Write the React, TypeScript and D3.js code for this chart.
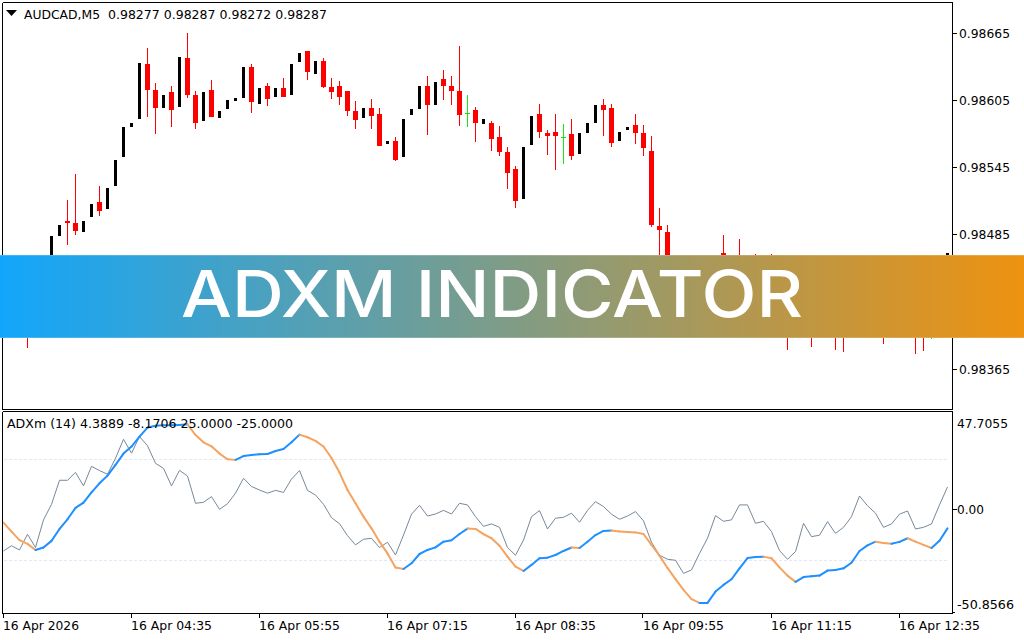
import * as d3 from "d3";
import { useEffect, useRef } from "react";

// prices in points (1 point = 0.00001)
const opens = [
  98409, 98422, 98416, 98419, 98418, 98440, 98460, 98484, 98497, 98495,
  98487, 98501, 98514, 98508, 98528, 98554, 98581, 98588, 98637, 98614,
  98598, 98612, 98599, 98643, 98610, 98586, 98614, 98589, 98597, 98604,
  98607, 98635, 98602, 98618, 98608, 98616, 98610, 98639, 98649, 98628,
  98640, 98617, 98618, 98613, 98595, 98589, 98598, 98593, 98566, 98569,
  98554, 98592, 98597, 98618, 98601, 98624, 98618, 98613, 98594, 98596,
  98584, 98585, 98572, 98559, 98544, 98517, 98565, 98593, 98576, 98577,
  98572, 98575, 98557, 98576, 98585, 98601, 98598, 98569, 98578, 98583,
  98576, 98560, 98493, 98487, 98453, 98435, 98449, 98431, 98444, 98458,
  98469, 98452, 98460, 98460, 98460, 98435, 98455, 98427, 98431, 98404,
  98422, 98418, 98400, 98410, 98416, 98404, 98393, 98413, 98410, 98422,
  98427, 98407, 98422, 98435, 98422, 98413, 98409, 98409, 98449,
];
const highs = [
  98427, 98428, 98431, 98427, 98440, 98460, 98484, 98494, 98516, 98539,
  98497, 98512, 98528, 98527, 98552, 98581, 98585, 98638, 98652, 98620,
  98610, 98618, 98644, 98665, 98613, 98612, 98623, 98595, 98605, 98607,
  98635, 98637, 98616, 98620, 98616, 98625, 98637, 98647, 98649, 98640,
  98643, 98625, 98622, 98613, 98604, 98598, 98606, 98598, 98569, 98572,
  98588, 98597, 98618, 98627, 98621, 98632, 98627, 98653, 98610, 98599,
  98588, 98586, 98582, 98563, 98546, 98563, 98591, 98602, 98578, 98593,
  98584, 98588, 98576, 98585, 98601, 98606, 98602, 98577, 98581, 98593,
  98583, 98573, 98509, 98494, 98460, 98449, 98460, 98444, 98458, 98467,
  98485, 98460, 98481, 98467, 98468, 98449, 98468, 98435, 98449, 98418,
  98435, 98431, 98413, 98427, 98435, 98418, 98404, 98427, 98422, 98431,
  98440, 98422, 98435, 98449, 98431, 98427, 98427, 98435, 98469,
];
const lows = [
  98409, 98407, 98416, 98384, 98418, 98440, 98460, 98484, 98476, 98485,
  98487, 98501, 98502, 98508, 98528, 98554, 98581, 98588, 98590, 98575,
  98598, 98581, 98599, 98607, 98579, 98586, 98590, 98589, 98597, 98604,
  98607, 98594, 98602, 98600, 98608, 98608, 98610, 98639, 98623, 98628,
  98616, 98606, 98601, 98591, 98579, 98589, 98579, 98564, 98566, 98551,
  98554, 98592, 98597, 98574, 98601, 98605, 98601, 98582, 98581, 98568,
  98584, 98560, 98555, 98526, 98509, 98517, 98565, 98571, 98556, 98543,
  98548, 98552, 98557, 98576, 98585, 98573, 98563, 98569, 98578, 98566,
  98555, 98492, 98449, 98449, 98427, 98435, 98422, 98431, 98444, 98458,
  98440, 98452, 98431, 98460, 98435, 98435, 98422, 98427, 98382, 98404,
  98400, 98385, 98400, 98410, 98382, 98380, 98393, 98395, 98410, 98422,
  98387, 98407, 98422, 98404, 98378, 98381, 98392, 98409, 98449,
];
const closes = [
  98427, 98410, 98431, 98400, 98440, 98460, 98484, 98494, 98495, 98488,
  98497, 98512, 98506, 98527, 98552, 98581, 98585, 98638, 98614, 98598,
  98610, 98596, 98644, 98610, 98585, 98612, 98590, 98595, 98605, 98607,
  98635, 98603, 98616, 98606, 98616, 98608, 98637, 98647, 98630, 98640,
  98617, 98612, 98608, 98595, 98587, 98598, 98591, 98564, 98569, 98552,
  98588, 98597, 98618, 98601, 98621, 98618, 98613, 98592, 98594, 98585,
  98588, 98570, 98559, 98540, 98515, 98563, 98591, 98577, 98573, 98573,
  98572, 98555, 98576, 98585, 98601, 98596, 98567, 98577, 98581, 98576,
  98562, 98494, 98489, 98453, 98435, 98449, 98431, 98444, 98458, 98467,
  98455, 98460, 98444, 98467, 98449, 98449, 98431, 98435, 98409, 98418,
  98409, 98400, 98413, 98427, 98400, 98393, 98404, 98404, 98422, 98431,
  98404, 98422, 98435, 98418, 98400, 98395, 98409, 98435, 98469,
];

const adxSignal = [
  -6.4, -10.8, -15.0, -16.9, -19.9, -18.7, -15.4, -9.5, -4.7, 0.9,
  3.5, 8.6, 13.1, 16.9, 22.2, 27.8, 31.3, 36.2, 40.7, 41.6,
  41.8, 41.8, 42.0, 42.3, 37.0, 33.4, 31.4, 27.8, 25.0, 24.7,
  26.6, 27.1, 27.5, 27.6, 29.1, 30.1, 33.4, 37.2, 35.9, 34.1,
  31.3, 25.6, 18.4, 9.8, 3.2, -3.4, -9.2, -15.8, -21.6, -28.6,
  -29.3, -26.5, -21.9, -19.9, -18.6, -15.8, -15.1, -12.0, -9.3, -9.5,
  -12.1, -14.1, -17.8, -23.2, -28.2, -30.3, -27.3, -24.0, -23.7, -22.4,
  -20.4, -18.7, -18.9, -15.8, -12.5, -10.5, -10.3, -10.8, -11.0, -11.2,
  -12.0, -17.4, -22.7, -28.8, -34.3, -39.7, -44.2, -46.1, -46.1, -40.5,
  -37.2, -34.4, -29.0, -23.9, -23.4, -23.2, -24.0, -28.5, -32.6, -35.7,
  -33.3, -32.9, -32.6, -30.1, -29.8, -29.0, -26.2, -20.4, -17.6, -15.8,
  -16.4, -16.8, -15.9, -14.1, -15.8, -17.4, -18.9, -15.3, -9.2,
];
const adxRaw = [
  -20.4, -17.8, -19.9, -12.1, -18.7, -5.0, 2.7, 14.6, 14.6, 18.5,
  11.8, 21.5, 19.4, 17.6, 25.5, 34.9, 28.0, 36.2, 31.7, 23.0,
  20.5, 11.8, 19.5, 16.7, 3.2, 3.7, 6.5, 0.2, 3.0, 8.2,
  15.6, 11.5, 9.8, 8.2, 9.6, 8.6, 15.2, 19.4, 9.6, 7.3,
  2.7, -3.9, -6.9, -12.8, -17.4, -14.6, -14.1, -18.7, -16.1, -22.4,
  -12.5, -2.2, 2.2, -3.1, -2.1, -0.3, -2.1, 3.2, 2.4, -3.4,
  -8.2, -7.0, -8.7, -18.7, -22.5, -15.0, -3.4, -0.4, -9.5, -4.2,
  -3.7, -1.7, -6.2, -0.3, 4.0, 1.6, -2.2, -4.7, -3.1, -0.9,
  -5.5, -16.1, -22.5, -24.5, -25.0, -31.5, -29.8, -21.6, -14.1, -2.9,
  -5.7, -5.0, 2.4, 2.4, -6.7, -5.7, -10.8, -20.2, -24.5, -20.7,
  -6.7, -13.3, -12.6, -5.9, -11.7, -8.7, -3.4, 6.8, 2.0, -1.7,
  -8.7, -7.0, -2.2, -0.6, -9.5, -8.7, -7.0, 2.4, 11.3,
];

const priceTicks = [98665, 98605, 98545, 98485, 98425, 98365];
const adxLevels = [25, -25];
const adxTicks = [47.7055, 0, -50.8566];
const adxTickLabels = ["47.7055", "0.00", "-50.8566"];
const timeLabels = [
  "16 Apr 2026",
  "16 Apr 04:35",
  "16 Apr 05:55",
  "16 Apr 07:15",
  "16 Apr 08:35",
  "16 Apr 09:55",
  "16 Apr 11:15",
  "16 Apr 12:35",
];
const BARS_PER_LABEL = 16;

const UI_FONT = "'DejaVu Sans', sans-serif";

export default function App() {
  const svgRef = useRef<SVGSVGElement>(null);

  useEffect(() => {
    if (!svgRef.current) return;
    const svg = d3.select(svgRef.current);
    svg.selectAll("*").remove();

    const x = d3.scaleLinear().domain([0, opens.length - 1]).range([3.5, 947.5]);
    const yPrice = d3.scaleLinear().domain([98365, 98665]).range([369, 33]);
    const yAdx = d3.scaleLinear().domain([-50.8566, 47.7055]).range([612.5, 413.4]);

    const crisp = (v: number) => Math.round(v - 0.5) + 0.5;

    // price pane
    const candles = svg.append("g");
    opens.forEach((open, i) => {
      const close = closes[i];
      const cx = x(i);
      const up = close > open;
      const color = up ? "#000000" : close < open ? "#ff0000" : "#17e317";
      if (!up) {
        candles
          .append("line")
          .attr("x1", cx)
          .attr("x2", cx)
          .attr("y1", Math.round(yPrice(highs[i])))
          .attr("y2", Math.round(yPrice(lows[i])))
          .attr("stroke", color)
          .attr("stroke-width", 1)
          .attr("shape-rendering", "crispEdges");
      }
      const top = Math.round(yPrice(Math.max(open, close)));
      const bottom = Math.round(yPrice(Math.min(open, close)));
      const w = up ? 3 : 5;
      candles
        .append("rect")
        .attr("x", cx - w / 2)
        .attr("y", top)
        .attr("width", w)
        .attr("height", Math.max(1, bottom - top))
        .attr("fill", color)
        .attr("shape-rendering", "crispEdges");
    });

    const text = (
      tx: number,
      ty: number,
      label: string,
    ) =>
      svg
        .append("text")
        .attr("x", tx)
        .attr("y", ty)
        .attr("font-family", UI_FONT)
        .attr("font-size", 12)
        .attr("fill", "#000000")
        .text(label);

    // legend triangle and header
    svg
      .append("path")
      .attr("d", d3.line()([[6, 10], [17, 10], [11.5, 16]]) + "Z")
      .attr("fill", "#000000");
    text(24, 18.5, "AUDCAD,M5")
      .attr("textLength", 76)
      .attr("lengthAdjust", "spacingAndGlyphs");
    text(108, 18.5, "0.98277 0.98287 0.98272 0.98287")
      .attr("textLength", 219)
      .attr("lengthAdjust", "spacingAndGlyphs");

    // indicator pane
    const adx = svg.append("g");
    adxLevels.forEach((level) => {
      adx
        .append("line")
        .attr("x1", x(0))
        .attr("x2", x(opens.length - 1))
        .attr("y1", crisp(yAdx(level)))
        .attr("y2", crisp(yAdx(level)))
        .attr("stroke", "#e6e6fa")
        .attr("stroke-width", 1)
        .attr("stroke-dasharray", "3,2")
        .attr("shape-rendering", "crispEdges");
    });

    const line = d3
      .line<number>()
      .x((_, i) => x(i))
      .y((d) => yAdx(d));

    adx
      .append("path")
      .attr("d", line(adxRaw))
      .attr("fill", "none")
      .attr("stroke", "#778899")
      .attr("stroke-width", 1);

    text(7, 428, "ADXm (14) 4.3889 -8.1706 25.0000 -25.0000")
      .attr("textLength", 286)
      .attr("lengthAdjust", "spacingAndGlyphs");

    // blue while rising, orange while falling
    d3.pairs(adxSignal).forEach(([a, b], i) => {
      adx
        .append("line")
        .attr("x1", x(i))
        .attr("x2", x(i + 1))
        .attr("y1", yAdx(a))
        .attr("y2", yAdx(b))
        .attr("stroke", b >= a ? "#1e90ff" : "#f4a460")
        .attr("stroke-width", 2)
        .attr("stroke-linecap", "round");
    });

    // banner across the chart
    const gradient = svg
      .append("defs")
      .append("linearGradient")
      .attr("id", "banner-fill")
      .attr("x1", 0)
      .attr("x2", 1)
      .attr("y1", 0)
      .attr("y2", 0);
    gradient.append("stop").attr("offset", 0).attr("stop-color", "#12a6fb");
    gradient.append("stop").attr("offset", 1).attr("stop-color", "#ee9210");
    svg
      .append("rect")
      .attr("x", 0)
      .attr("y", 255)
      .attr("width", 1024)
      .attr("height", 83)
      .attr("fill", "url(#banner-fill)");
    // softer first and last pixel rows on the banner
    [255, 337].forEach((by) => {
      svg
        .append("rect")
        .attr("x", 0)
        .attr("y", by)
        .attr("width", 1024)
        .attr("height", 1)
        .attr("fill", "#ffffff")
        .attr("opacity", 0.18);
    });
    svg
      .append("text")
      .attr("x", 181)
      .attr("y", 317)
      .attr("font-family", "Inter, 'Open Sans', sans-serif")
      .attr("font-size", 65)
      .attr("font-weight", 500)
      .attr("fill", "#ffffff")
      .attr("textLength", 622)
      .attr("lengthAdjust", "spacingAndGlyphs")
      .text("ADXM INDICATOR");

    // frames
    const frame = svg.append("g").attr("fill", "none").attr("stroke", "#000000");
    const drawFrame = (y0: number, y1: number) => {
      frame
        .append("path")
        .attr("d", `M952.5,${y0}V${y1}`)
        .attr("shape-rendering", "crispEdges");
      frame
        .append("path")
        .attr("d", `M2.5,${y0}V${y1}`)
        .attr("shape-rendering", "crispEdges");
    };
    // the banner sits on top of the chart, so the verticals break around it
    drawFrame(2.5, 255);
    drawFrame(338, 409.5);
    drawFrame(411.5, 613.5);
    [2.5, 409.5, 411.5, 613.5].forEach((fy) => {
      frame
        .append("path")
        .attr("d", `M2.5,${fy}H952.5`)
        .attr("shape-rendering", "crispEdges");
    });

    // price axis
    priceTicks.forEach((p) => {
      const ty = yPrice(p);
      if (ty > 255 && ty < 338) return;
      frame
        .append("path")
        .attr("d", `M952.5,${crisp(ty)}H957`)
        .attr("shape-rendering", "crispEdges");
      text(959, ty + 4.5, (p / 100000).toFixed(5))
        .attr("textLength", 51)
        .attr("lengthAdjust", "spacingAndGlyphs");
    });

    // indicator axis, end labels are kept inside the pane
    adxTicks.forEach((v, i) => {
      const ty = yAdx(v);
      if (i > 0) {
        frame
          .append("path")
          .attr("d", `M952.5,${crisp(ty)}H${i === 2 ? 955 : 957}`)
          .attr("shape-rendering", "crispEdges");
      }
      const label = adxTickLabels[i];
      const ly = i === 0 ? 427.5 : i === 2 ? 609 : ty + 4.5;
      text(957, ly, label)
        .attr("textLength", i === 0 ? 51 : i === 2 ? 57 : 27)
        .attr("lengthAdjust", "spacingAndGlyphs");
    });

    // time axis
    timeLabels.forEach((label, i) => {
      const tx = x(i * BARS_PER_LABEL) - 0.5;
      frame
        .append("path")
        .attr("d", `M${crisp(tx)},613.5V618`)
        .attr("shape-rendering", "crispEdges");
      text(tx, 630, label)
        .attr("textLength", i === 0 ? 76 : 81)
        .attr("lengthAdjust", "spacingAndGlyphs");
    });
  }, []);

  return (
    <svg
      ref={svgRef}
      width={1024}
      height={640}
      style={{ position: "absolute", left: 0, top: 0, background: "#ffffff" }}
    />
  );
}
